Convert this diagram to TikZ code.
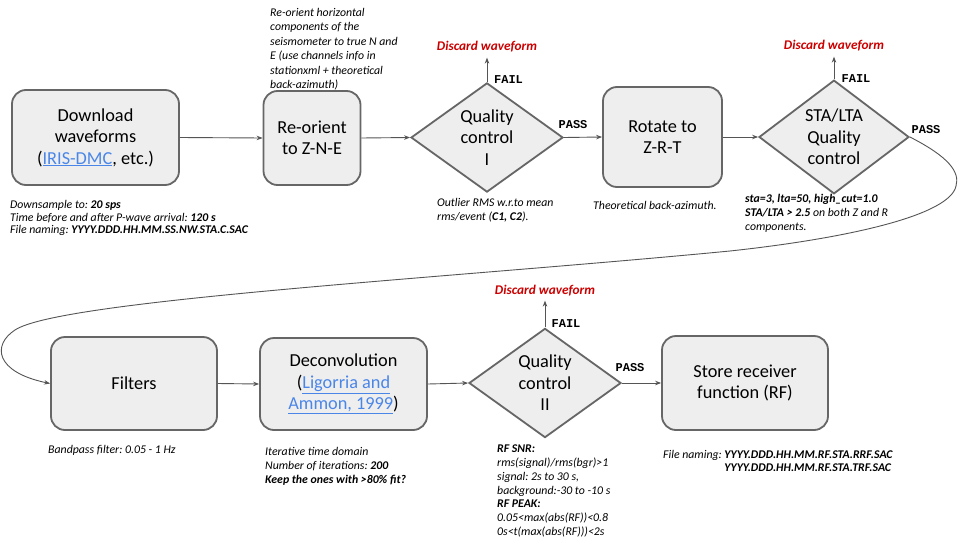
\documentclass[tikz,border=0pt]{standalone}
\usepackage{fontspec}
\setmainfont{Carlito}
\newfontfamily\monof{Liberation Mono}
\usetikzlibrary{shapes.geometric,arrows.meta}
\definecolor{boxfill}{HTML}{EEEEEE}
\definecolor{boxline}{HTML}{666666}
\definecolor{arr}{HTML}{555555}
\definecolor{linkblue}{HTML}{4A86E8}
\definecolor{discred}{HTML}{CC0000}
\newcommand{\lnk}[1]{\textcolor{linkblue}{\underline{#1}}}
\frenchspacing
\begin{document}
\begin{tikzpicture}[x=1pt,y=-1pt,
  stepbox/.style={draw=boxline, fill=boxfill, line width=1.8pt, rounded corners=14pt, align=center,
    font=\fontsize{18.3}{21.5}\selectfont, inner sep=0pt},
  decision/.style={diamond, draw=boxline, fill=boxfill, line width=1.8pt, align=center,
    font=\fontsize{18.3}{21.5}\selectfont, inner sep=0pt},
  conn/.style={draw=arr, line width=0.9pt, -{Stealth[length=6pt,width=4.5pt]}},
  note/.style={anchor=north west, align=left, inner sep=0pt, font=\fontsize{11.8}{13.5}\selectfont\itshape},
  flag/.style={font=\monof\bfseries\fontsize{12}{12}\selectfont, inner sep=0pt},
  discard/.style={font=\fontsize{13.3}{15}\selectfont\bfseries\itshape, text=discred, inner sep=1pt}
]
\useasboundingbox[fill=white] (0,0) rectangle (960,554);

% top row
\node[stepbox, minimum width=167pt, minimum height=95pt] (b1) at (95.5,137.5)
  {Download\\waveforms\\(\lnk{IRIS-DMC}, etc.)};
\node[stepbox, minimum width=97pt, minimum height=94pt] (b2) at (312,138) {Re-orient\\to Z-N-E};
\node[decision, minimum width=152pt, minimum height=99pt] (d1) at (487,137.5) {Quality\\control\\I};
\node[stepbox, minimum width=119pt, minimum height=100pt] (b3) at (662.5,137) {Rotate to\\Z-R-T};
\node[decision, minimum width=150pt, minimum height=100pt] (d2) at (834,137) {STA/LTA\\Quality\\control};

% bottom row
\node[stepbox, minimum width=166pt, minimum height=93pt] (f) at (134,383.5) {Filters};
\node[stepbox, minimum width=167pt, minimum height=92pt] (dc) at (343.5,384)
  {Deconvolution\\(\lnk{Ligorria and}\\\lnk{Ammon, 1999})};
\node[decision, minimum width=152pt, minimum height=100pt] (d3) at (545,383) {Quality\\control\\II};
\node[stepbox, minimum width=166pt, minimum height=94pt] (st) at (745,383) {Store receiver\\function (RF)};

% discard targets
\node[discard] (x1) at (487,47) {Discard waveform};
\node[discard] (x2) at (834,46) {Discard waveform};
\node[discard] (x3) at (545,291) {Discard waveform};

% flags
\node[flag] (fa1) at (508.5,80) {FAIL};
\node[flag] (pa1) at (573,125) {PASS};
\node[flag] (fa2) at (856,79) {FAIL};
\node[flag] (pa2) at (926,130) {PASS};
\node[flag] (fa3) at (566,324) {FAIL};
\node[flag] (pa3) at (630,368) {PASS};

% connectors
\draw[conn] (b1.east) -- (b2.west);
\draw[conn] (b2.east) -- (d1.west);
\draw[conn] (d1.east) -- (b3.west);
\draw[conn] (b3.east) -- (d2.west);
\draw[conn] (f.east) -- (dc.west);
\draw[conn] (dc.east) -- (d3.west);
\draw[conn] (d3.east) -- (st.west);
\draw[conn, shorten >=4pt] (d1.north) -- (d1.north |- x1.south);
\draw[conn, shorten >=4pt] (d2.north) -- (d2.north |- x2.south);
\draw[conn, shorten >=3pt] (d3.north) -- (d3.north |- x3.south);
\draw[conn] (d2.east) .. controls (949,157) and (960,172) .. (956,186)
  .. controls (950,215) and (850,238) .. (730,251)
  .. controls (450,278) and (60,300) .. (15,330)
  .. controls (-8,345) and (-5,372) .. (f.west);

% notes
\node[note, font=\fontsize{11.8}{12.7}\selectfont\itshape] (n1) at (10,200)
  {Downsample to: \textbf{20 sps}\\Time before and after P-wave arrival: \textbf{120 s}\\File naming: \textbf{YYYY.DDD.HH.MM.SS.NW.STA.C.SAC}};
\node[note, font=\fontsize{11.8}{14.5}\selectfont\itshape] (n2) at (270,8)
  {Re-orient horizontal\\components of the\\seismometer to true N and\\E (use channels info in\\stationxml + theoretical\\back-azimuth)};
\node[note, font=\fontsize{11.8}{14}\selectfont\itshape] (n3) at (437,198)
  {Outlier RMS w.r.to mean\\rms/event (\textbf{C1, C2}).};
\node[note] (n4) at (593,201) {Theoretical back-azimuth.};
\node[note, font=\fontsize{11.8}{14}\selectfont\itshape] (n5) at (745,194)
  {\textbf{sta=3, lta=50, high\_cut=1.0}\\\textbf{STA/LTA > 2.5} on both Z and R\\components.};
\node[note] (n6) at (48,445) {Bandpass filter: 0.05 - 1 Hz};
\node[note, font=\fontsize{11.8}{14}\selectfont\itshape] (n7) at (265,447)
  {Iterative time domain\\Number of iterations: \textbf{200}\\\textbf{Keep the ones with >80\% fit?}};
\node[note, font=\fontsize{11.8}{13.7}\selectfont\itshape] (n8) at (497,445)
  {\textbf{RF SNR:}\\rms(signal)/rms(bgr)>1\\signal: 2s to 30 s,\\background:-30 to -10 s\\\textbf{RF PEAK:}\\0.05<max(abs(RF))<0.8\\0s<t(max(abs(RF)))<2s};
\node[note, inner sep=0pt] (n9) at (663,449)
  {\begin{tabular}{@{}l@{\ }l@{}}File naming: & \textbf{YYYY.DDD.HH.MM.RF.STA.RRF.SAC}\\[-0.5pt]
   & \textbf{YYYY.DDD.HH.MM.RF.STA.TRF.SAC}\end{tabular}};
\end{tikzpicture}
\end{document}
